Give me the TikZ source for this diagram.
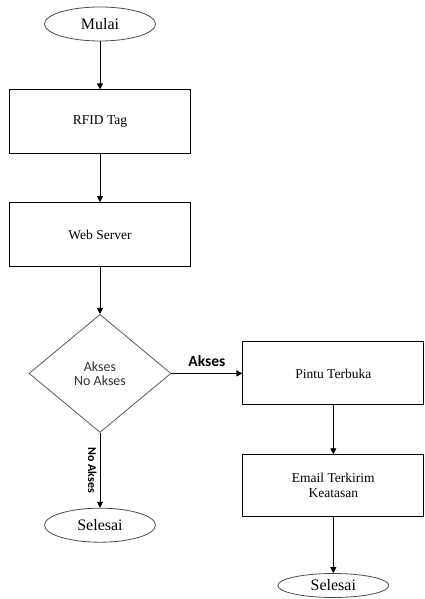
\documentclass[tikz,border=0pt]{standalone}
\usepackage{fontspec}
\setmainfont{Liberation Serif}
\newfontfamily\sansfont{Carlito}
\usepackage{tikz}
\usetikzlibrary{arrows.meta,positioning,shapes.geometric}

\begin{document}
\begin{tikzpicture}[
  x=1pt, y=1pt,
  node distance=48pt,
  terminal/.style={draw=black!70, ellipse, line width=0.8pt, inner sep=0pt, minimum width=111pt, minimum height=34pt, font=\fontsize{16}{18}\selectfont},
  proc/.style={draw, line width=0.8pt, align=center, inner sep=0pt, minimum width=181pt, minimum height=64pt, font=\fontsize{13.5}{15}\selectfont},
  decision/.style={draw=black!65, diamond, line width=0.8pt, inner sep=0pt, align=center, minimum width=142pt, minimum height=118pt, font=\sansfont\fontsize{14}{13}\selectfont, text=black!80},
  arr/.style={-{Triangle[length=6pt, width=6pt]}, line width=0.9pt},
  lbl/.style={font=\sansfont\bfseries\fontsize{15.5}{17}\selectfont}
]
\useasboundingbox (0,0) rectangle (424,599);
\node[terminal] (mulai) at (100,575) {Mulai};
\node[proc, below=of mulai] (rfid) {RFID Tag};
\node[proc, below=of rfid] (server) {Web Server};
\node[decision, below=47pt of server] (cek) {Akses\\[1pt]No Akses};
\node[terminal, below=75pt of cek] (selesaiA) {Selesai};
\node[proc, minimum height=63pt, right=71pt of cek] (pintu) {Pintu Terbuka};
\node[proc, minimum height=62pt, below=49pt of pintu] (email) {Email Terkirim\\Keatasan};
\node[terminal, minimum height=24pt, below=56pt of email] (selesaiB) {Selesai};
\draw[arr] (mulai) -- (rfid);
\draw[arr] (rfid) -- (server);
\draw[arr] (server) -- (cek);
\draw[arr] (cek) -- node[lbl, above=3pt] {Akses} (pintu);
\draw[arr] (cek) -- node[lbl, font=\sansfont\bfseries\fontsize{12}{13}\selectfont, rotate=-90, anchor=north, inner sep=3pt] {No Akses} (selesaiA);
\draw[arr] (pintu) -- (email);
\draw[arr] (email) -- (selesaiB);
\end{tikzpicture}
\end{document}
